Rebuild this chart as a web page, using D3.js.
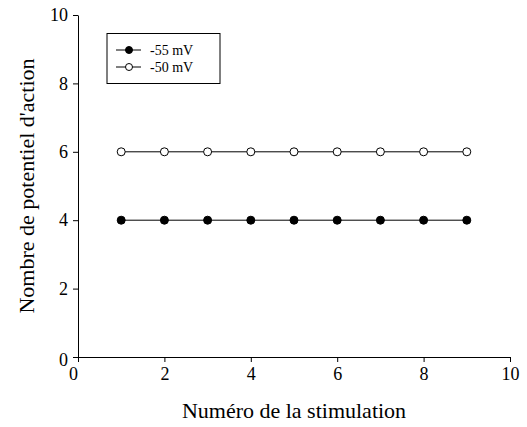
<!DOCTYPE html>
<html><head><meta charset="utf-8">
<script src="https://cdn.jsdelivr.net/npm/d3@7"></script>
<style>body{margin:0;background:#fff} text{font-family:"Times New Roman","Liberation Serif",serif;}</style>
</head><body>
<svg id="c" width="527" height="427"></svg>
<script>
const stimulation = [1,2,3,4,5,6,7,8,9];
const seriesNames = ["-55 mV","-50 mV"];
const values55 = [4,4,4,4,4,4,4,4,4];
const values50 = [6,6,6,6,6,6,6,6,6];
const xTicks = [0,2,4,6,8,10];
const yTicks = [0,2,4,6,8,10];

const svg = d3.select("#c");
const x = d3.scaleLinear().domain([0,10]).range([78,510]);
const y = d3.scaleLinear().domain([0,10]).range([357,15]);

const xa = svg.append("g").attr("transform","translate(0,357)")
  .call(d3.axisBottom(x).tickValues(xTicks).tickSize(5).tickPadding(3).tickSizeOuter(0));
const ya = svg.append("g").attr("transform","translate(78,0)")
  .call(d3.axisLeft(y).tickValues(yTicks).tickSize(5).tickPadding(5).tickSizeOuter(0));
[xa,ya].forEach(a=>{
  a.attr("font-family",null).attr("font-size",18);
  a.selectAll("text").attr("fill","#000");
  a.selectAll("line,path").attr("stroke","#000");
});
xa.selectAll("text").attr("dy","0.85em");
xa.selectAll(".tick text").filter(d=>d===0).attr("x",-5);
ya.selectAll(".tick text").filter(d=>d===0).attr("dy","0.45em");

const line = d3.line().x((d,i)=>x(stimulation[i])).y(d=>y(d));
const series = [{name:seriesNames[0],vals:values55,fill:"#000"},{name:seriesNames[1],vals:values50,fill:"#fff"}];
series.forEach(s=>{
  svg.append("path").datum(s.vals).attr("d",line).attr("fill","none").attr("stroke","#000").attr("stroke-width",1);
  svg.selectAll(null).data(s.vals).enter().append("circle")
    .attr("cx",(d,i)=>x(stimulation[i])).attr("cy",d=>y(d)).attr("r",4)
    .attr("fill",s.fill).attr("stroke","#000").attr("stroke-width",1);
});

const lg = svg.append("g");
lg.append("rect").attr("x",107).attr("y",33.5).attr("width",113).attr("height",50)
  .attr("fill","#fff").attr("stroke","#000").attr("stroke-width",1);
series.forEach((s,i)=>{
  const yy = 50 + i*17;
  lg.append("line").attr("x1",116).attr("x2",141).attr("y1",yy).attr("y2",yy).attr("stroke","#000");
  lg.append("circle").attr("cx",129).attr("cy",yy).attr("r",3.5).attr("fill",s.fill).attr("stroke","#000");
  lg.append("text").attr("x",150).attr("y",yy).attr("dy","0.35em").text(s.name).attr("font-size",14);
});

svg.append("text").attr("x",294).attr("y",418).attr("text-anchor","middle")
  .attr("font-size",22).text("Numéro de la stimulation");
svg.append("text").attr("transform","translate(34,186) rotate(-90)").attr("text-anchor","middle")
  .attr("font-size",22).text("Nombre de potentiel d'action");
</script>
</body></html>
